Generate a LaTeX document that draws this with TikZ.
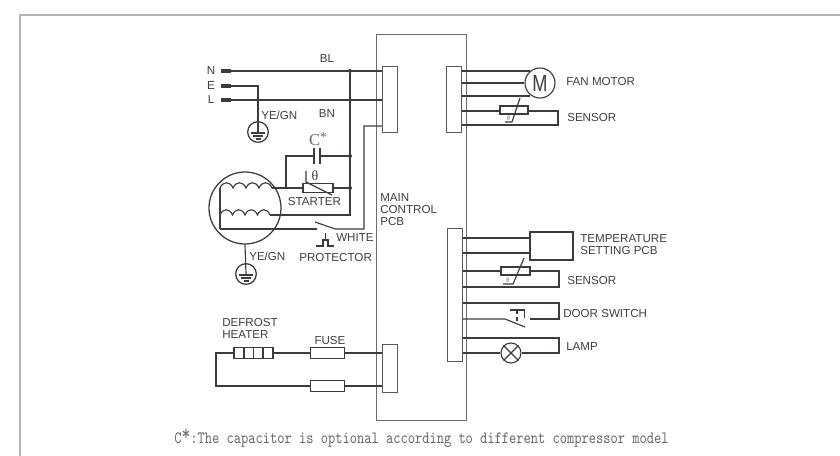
\documentclass[tikz,border=0pt]{standalone}
\usepackage{fontspec}
\setmainfont{Liberation Sans}
\newfontfamily\serifcap{Liberation Serif}
\usetikzlibrary{calc}
\definecolor{wire}{HTML}{403B39}
\definecolor{boxline}{HTML}{6E6C6B}
\definecolor{txt}{HTML}{404040}
\definecolor{frameline}{HTML}{B5B5B5}
\tikzset{
  x=0.75pt,y=-0.75pt,
  wireline/.style={draw=wire,line width=0.85pt},
  thick line/.style={draw=wire,line width=1pt},
  mainbox/.style={draw=boxline,line width=0.95pt,fill=white},
  pcb/.style={draw=wire!85,line width=0.75pt,fill=white},
  lab/.style={inner sep=0pt,anchor=west,text=txt,font=\fontsize{8.7}{10}\selectfont},
  labc/.style={inner sep=0pt,anchor=center,text=txt,font=\fontsize{8.7}{10}\selectfont},
  dotj/.style={circle,fill=wire,inner sep=0pt,minimum size=3pt},
  term/.style={fill=wire,draw=none,minimum width=7.5pt,minimum height=3pt,inner sep=0pt},
  gndc/.style={circle,draw=wire,line width=0.95pt,minimum size=15.5pt,inner sep=0pt},
  motorc/.style={circle,draw=wire,line width=0.85pt,minimum size=22.5pt,inner sep=0pt},
  lampc/.style={circle,draw=wire,line width=0.85pt,minimum size=15pt,inner sep=0pt},
  res/.style={draw=wire,line width=0.85pt,fill=white,inner sep=0pt},
}
\newcommand{\gndbars}[1]{%
  \draw[wireline] ($(#1)+(-7,1)$)--($(#1)+(7,1)$);
  \draw[wireline] ($(#1)+(-5,4)$)--($(#1)+(5,4)$);
  \draw[wireline] ($(#1)+(-2.5,7)$)--($(#1)+(2.5,7)$);
}
\begin{document}
\begin{tikzpicture}
\useasboundingbox (0,0) rectangle (840,456);
\fill[white] (0,0) rectangle (840,456);
% page frame
\draw[frameline,line width=1.1pt] (20,456) -- (20,15) -- (840,15);
% main board
\node[mainbox,minimum width=67pt,minimum height=290pt,inner sep=0pt] (main) at (421.5,227.5) {};
% connectors
\node[pcb,minimum width=11.25pt,minimum height=49.5pt] (cA) at (389.5,100) {};
\node[pcb,minimum width=11.25pt,minimum height=35.25pt] (cB) at (389.5,368.5) {};
\node[pcb,minimum width=11.25pt,minimum height=49.5pt] (cC) at (453.5,100) {};
\node[pcb,minimum width=11.25pt,minimum height=99.75pt] (cD) at (454.5,295.5) {};
% mains terminals
\node[term] (tN) at (226,71) {};
\node[term] (tE) at (226,86) {};
\node[term] (tL) at (226,100) {};
\node[labc] (lN) at (211,71) {N};
\node[labc] (lE) at (211,85.5) {E};
\node[labc] (lL) at (211,100) {L};
\coordinate (aN) at (cA.west |- tN);
\coordinate (aL) at (cA.west |- tL);
\coordinate (aR) at (382,126);
\draw[wireline] (tN) -- (aN);
\draw[wireline] (tL) -- (aL);
\node[dotj] (j1) at (350,71) {};
\node[dotj] (j2) at (350,156) {};
\node[dotj] (j3) at (350,188) {};
% ground 1
\node[gndc] (g1) at (258,132) {};
\coordinate (g1c) at (258,132);
\draw[wireline] (tE) -| (g1c);
\gndbars{g1c}
\node[lab] (lYE1) at (261,115) {YE/GN};
\node[labc] (lBL) at (327,59) {BL};
\node[labc] (lBN) at (327,114) {BN};
\node[text=boxline,inner sep=0pt,font=\serifcap\fontsize{12.5}{14}\selectfont] (lC) at (318,139) {C\raisebox{3pt}{\fontsize{10}{10}\selectfont *}};
% compressor
\node[circle,draw=wire,line width=0.95pt,minimum size=54pt,inner sep=0pt] (comp) at (245,208) {};
\coordinate (up1) at (220,188);
\coordinate (up2) at (272,188);
\coordinate (lo1) at (220,215);
\coordinate (lo2) at (270,215);
\coordinate (prot) at (220,229);
\draw[wireline] (up1) -- (prot);
\draw[wireline] (up1) \foreach \i in {0,1,2,3} { .. controls ($(up1)+(\i*13+3,-7)$) and ($(up1)+(\i*13+10,-7)$) .. ($(up1)+(\i*13+13,0)$)};
\draw[wireline] (lo1) \foreach \i in {0,1,2,3} { .. controls ($(lo1)+(\i*12.5+3,-7)$) and ($(lo1)+(\i*12.5+9.5,-7)$) .. ($(lo1)+(\i*12.5+12.5,0)$)};
% starter
\node[res,minimum width=22.5pt,minimum height=6.8pt] (st) at (318,188) {};
\draw[wireline] (up2) -- (st.west);
\draw[wireline] (st.east) -- (j3);
\coordinate (stA) at (306,171);
\coordinate (stB) at (306,182);
\coordinate (stC) at (332,195);
\draw[wireline] (stA) -- (stB) -- (stC);
\node[text=txt,inner sep=0pt,font=\serifcap\fontsize{10.5}{11}\selectfont] (lth) at (315,176) {θ};
\node[labc] (lST) at (314.5,202) {STARTER};
% capacitor
\coordinate (capL) at (286,188);
\coordinate (p1) at (314,156);
\coordinate (p2) at (320,156);
\draw[wireline] (capL) |- (p1);
\draw[wireline] (p2) -- (j2);
\draw[thick line] (314,148) -- (314,164);
\draw[thick line] (320,148) -- (320,164);
% junction bus
\coordinate (busB) at (350,215);
\draw[wireline] (j1) -- (busB) -- (lo2);
% protector wiring
\coordinate (sw1) at (317,229);
\coordinate (sw2) at (335,229);
\coordinate (bl) at (315,222);
\coordinate (ret) at (364,229);
\draw[wireline] (prot) -- (sw1);
\draw[wireline] (bl) -- (sw2) -- (ret) |- (aR);
\draw[wireline] (325.5,233) -- (325.5,240);
\draw[wireline] (316,246) -- (323,246) -- (323,240) -- (328,240) -- (328,246) -- (334,246);
\node[lab] (lWH) at (336,238) {WHITE};
\node[lab] (lPR) at (299,258) {PROTECTOR};
% ground 2
\node[gndc] (g2) at (246,274) {};
\coordinate (g2c) at (246,274);
\draw[wireline] (comp.south) -- (g2c);
\gndbars{g2c}
\node[lab] (lYE2) at (249,256) {YE/GN};
\node[lab,align=left,font=\fontsize{8.7}{9}\selectfont] (lMC) at (380,209.5) {MAIN\\CONTROL\\PCB};
% defrost
\node[res,minimum width=29.25pt,minimum height=8.25pt] (ht) at (253.5,353) {};
\foreach \x in {244,253.5,263} \draw[wireline] (\x,347.5) -- (\x,358.5);
\node[res,minimum width=25.5pt,minimum height=8pt] (f1) at (327.5,353) {};
\node[res,minimum width=25.5pt,minimum height=8pt] (f2) at (327.5,386) {};
\coordinate (b1) at (cB.west |- f1);
\coordinate (b2) at (cB.west |- f2);
\coordinate (hl) at (216,353);
\coordinate (hb) at (216,386);
\draw[wireline] (ht.west) -- (hl) -- (hb) -- (f2.west);
\draw[wireline] (ht.east) -- (f1.west);
\draw[wireline] (f1.east) -- (b1);
\draw[wireline] (f2.east) -- (b2);
\node[lab] (lDF) at (222,323) {DEFROST};
\node[lab] (lHT) at (222,335) {HEATER};
\node[labc] (lFU) at (330,341) {FUSE};
% fan motor
\node[motorc] (mot) at (540,83) {};
\node[inner sep=0pt,text=wire,font=\fontsize{17.5}{18}\selectfont] (lM) at (540,83) {\scalebox{0.78}[1]{M}};
\draw[wireline] (cC.east |- 0,71) -- (530,71);
\draw[wireline] (cC.east |- 0,83) -- (mot.west);
\draw[wireline] (cC.east |- 0,96) -- (530,96);
\node[res,minimum width=21pt,minimum height=6pt] (s1) at (514,110) {};
\coordinate (s1r) at (558,111);
\coordinate (s1b) at (558,125);
\draw[wireline] (cC.east |- 0,111) -- (s1.west |- 0,111);
\draw[wireline] (s1.east |- 0,111) -- (s1r) -- (s1b) -- (cC.east |- 0,125);
\draw[wireline] (520,98) -- (512,122) -- (505,122);
\node[inner sep=0pt,text=boxline,font=\serifcap\fontsize{5}{5}\selectfont] (lt1) at (508.5,118.5) {θ};
\node[lab] (lFM) at (566,82) {FAN MOTOR};
\node[lab] (lS1) at (567,118) {SENSOR};
% temperature pcb
\node[draw=wire,line width=0.85pt,minimum width=32.25pt,minimum height=21pt,inner sep=0pt] (tp) at (551.5,246) {};
\draw[wireline] (cD.east |- 0,238) -- (tp.west |- 0,238);
\draw[wireline] (cD.east |- 0,253) -- (tp.west |- 0,253);
\node[lab] (lT1) at (580,239) {TEMPERATURE};
\node[lab] (lT2) at (580,251) {SETTING PCB};
% sensor 2
\node[res,minimum width=21.75pt,minimum height=6pt] (s2) at (515.5,271) {};
\coordinate (s2r) at (559,271);
\coordinate (s2b) at (559,287);
\draw[wireline] (cD.east |- 0,271) -- (s2.west);
\draw[wireline] (s2.east) -- (s2r) -- (s2b) -- (cD.east |- 0,287);
\draw[wireline] (524,258) -- (513,284) -- (503,284);
\node[inner sep=0pt,text=boxline,font=\serifcap\fontsize{5}{5}\selectfont] (lt2) at (508,280) {θ};
\node[lab] (lS2) at (567,281) {SENSOR};
% door switch
\coordinate (d1) at (559,303);
\coordinate (d2) at (559,319);
\coordinate (d3) at (530,319);
\coordinate (d4) at (505,319);
\coordinate (d5) at (525,327);
\draw[wireline] (cD.east |- 0,303) -- (d1) -- (d2) -- (d3);
\draw[wireline] (cD.east |- 0,319) -- (d4) -- (d5);
\draw[wireline] (510,310) -- (525,310);
\draw[wireline] (524.5,310) -- (524.5,318);
\draw[wireline,densely dashed] (517,310) -- (517,322);
\node[lab] (lDS) at (563,314) {DOOR SWITCH};
% lamp
\node[lampc] (lp) at (511,353) {};
\draw[wireline] (lp.north west) -- (lp.south east);
\draw[wireline] (lp.north east) -- (lp.south west);
\coordinate (l1) at (559,338);
\coordinate (l2) at (559,353);
\draw[wireline] (cD.east |- 0,338) -- (l1) -- (l2) -- (lp.east);
\draw[wireline] (cD.east |- 0,353) -- (lp.west);
\node[lab] (lLP) at (566,347) {LAMP};
% caption
\node[anchor=west,inner sep=0pt,text=txt!80,font=\ttfamily\fontsize{10.35}{12}\selectfont] (cap) at (174,438.5) {\scalebox{1}[1.25]{C\raisebox{2pt}{\fontsize{13}{13}\selectfont *}:The capacitor is optional according to different compressor model}};
\end{tikzpicture}
\end{document}
